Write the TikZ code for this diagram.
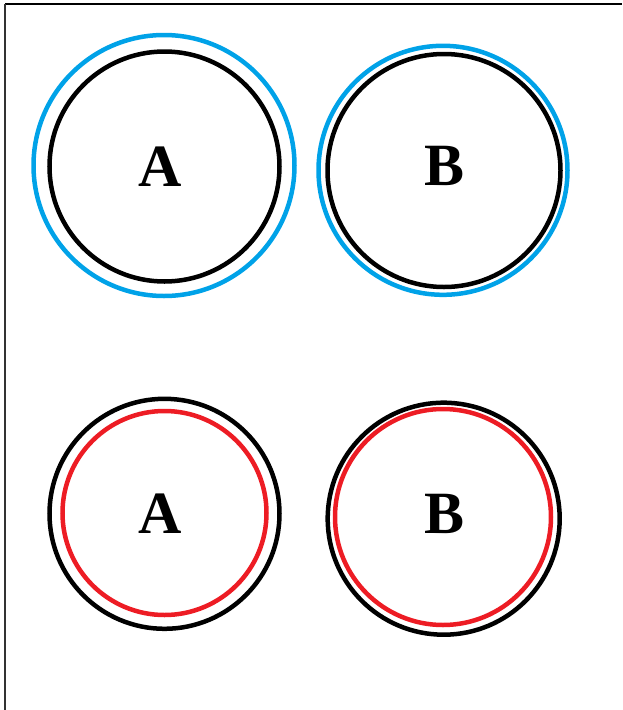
\documentclass[tikz,border=0pt]{standalone}
\usepackage{fontspec}
\setmainfont{Liberation Serif}[BoldFont={Liberation Serif Bold}]
\definecolor{ringblue}{RGB}{0,162,232}
\definecolor{ringred}{RGB}{237,28,36}
\begin{document}
\begin{tikzpicture}[x=1pt,y=-1pt,
  ring/.style={circle,draw,line width=4.5pt,inner sep=0pt,minimum size=#1},
  lbl/.style={font=\fontsize{60}{60}\selectfont\bfseries,inner sep=0pt}]
\useasboundingbox (0,0) rectangle (622,710);
\draw[line width=2pt] (5,4) -- (622,4);
\draw[line width=1.5pt,black!80] (5,4) -- (5,710);
% top left A
\node[ring=261pt,draw=ringblue] (ao) at (164,165.5) {};
\node[ring=230pt,draw=black] (ai) at (164.5,166.5) {};
\node[lbl] (at) at (160,167) {A};
% top right B
\node[ring=249pt,draw=ringblue] (bo) at (443,170.3) {};
\node[ring=233pt,draw=black] (bi) at (444,170.5) {};
\node[lbl] (bt) at (445,165.5) {B};
% bottom left A
\node[ring=230pt,draw=black] (co) at (164.5,513.8) {};
\node[ring=204pt,draw=ringred] (ci) at (164.5,513) {};
\node[lbl] (ct) at (160,514) {A};
% bottom right B
\node[ring=232pt,draw=black] (do) at (443.7,518.7) {};
\node[ring=216pt,draw=ringred] (di) at (443,517) {};
\node[lbl] (dt) at (445,513.5) {B};
\end{tikzpicture}
\end{document}
